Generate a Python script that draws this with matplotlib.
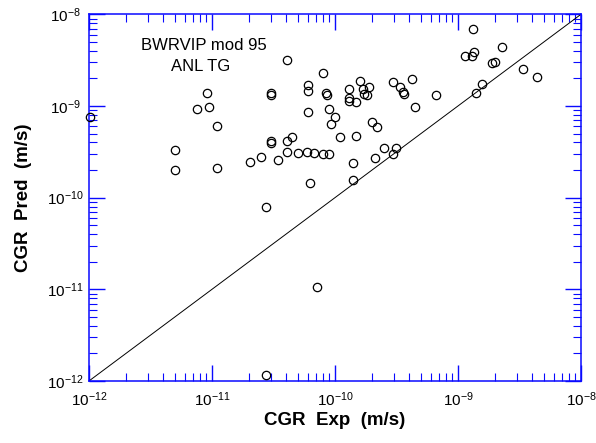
import matplotlib
matplotlib.use("Agg")
import matplotlib.pyplot as plt

plt.rcParams['font.family'] = ['Liberation Sans', 'DejaVu Sans']
plt.rcParams['mathtext.fontset'] = 'custom'
plt.rcParams['mathtext.rm'] = 'Liberation Sans'

cgr_exp = [
    4.05e-11, 7.94e-11, 6.0e-11, 6.0e-11, 9.16e-12, 3.0e-11, 3.0e-11, 8.4e-11,
    8.55e-11, 7.5e-12, 9.4e-12, 1.02e-12, 6.07e-11, 8.94e-11, 1.0e-10, 1.10e-11,
    9.28e-11, 3.0e-11, 3.0e-11, 4.1e-11, 4.45e-11, 1.10e-10, 5.03e-12, 5.03e-12,
    1.10e-11, 2.03e-11, 2.5e-11, 3.42e-11, 4.05e-11, 5.03e-11, 5.96e-11, 6.75e-11,
    7.94e-11, 8.94e-11, 6.26e-11, 2.73e-11, 1.33e-9, 2.27e-9, 1.14e-9, 1.34e-9,
    1.31e-9, 1.88e-9, 2.0e-9, 3.38e-9, 4.36e-9, 4.23e-10, 2.98e-10, 1.59e-10,
    1.31e-10, 1.69e-10, 1.89e-10, 1.72e-10, 1.82e-10, 3.38e-10, 3.57e-10, 3.65e-10,
    6.59e-10, 1.57e-9, 1.40e-9, 1.31e-10, 1.31e-10, 1.48e-10, 4.47e-10, 1.99e-10,
    2.19e-10, 1.49e-10, 2.5e-10, 3.11e-10, 2.98e-10, 2.1e-10, 1.39e-10, 1.39e-10,
    7.18e-11, 2.73e-11,
]
cgr_pred = [
    3.18e-9, 2.28e-9, 1.71e-9, 1.47e-9, 1.38e-9, 1.38e-9, 1.33e-9, 1.40e-9,
    1.31e-9, 9.3e-10, 9.8e-10, 7.5e-10, 8.55e-10, 9.2e-10, 7.66e-10, 6.06e-10,
    6.37e-10, 4.1e-10, 3.95e-10, 4.16e-10, 4.63e-10, 4.63e-10, 3.34e-10, 2.02e-10,
    2.13e-10, 2.46e-10, 2.81e-10, 2.58e-10, 3.13e-10, 3.05e-10, 3.18e-10, 3.05e-10,
    3.0e-10, 3.0e-10, 1.43e-10, 8.0e-11, 6.87e-9, 4.43e-9, 3.55e-9, 3.9e-9,
    3.55e-9, 2.92e-9, 3.04e-9, 2.53e-9, 2.09e-9, 1.97e-9, 1.84e-9, 1.89e-9,
    1.55e-9, 1.55e-9, 1.63e-9, 1.35e-9, 1.32e-9, 1.63e-9, 1.41e-9, 1.35e-9,
    1.33e-9, 1.74e-9, 1.39e-9, 1.23e-9, 1.13e-9, 1.10e-9, 9.77e-10, 6.75e-10,
    5.87e-10, 4.68e-10, 3.47e-10, 3.47e-10, 2.98e-10, 2.72e-10, 2.39e-10, 1.57e-10,
    1.07e-11, 1.16e-12,
]
axis_range = [1e-12, 1e-8]

frame_blue = '#0a0aff'

fig = plt.figure(figsize=(5.96, 4.43), dpi=100)
ax = fig.add_axes([0.1493, 0.140, 0.8255, 0.8277])

ax.plot(axis_range, axis_range, color='black', lw=0.7)
ax.plot(cgr_exp, cgr_pred, 'o', mfc='none', mec='black', ms=6, mew=0.9,
        clip_on=False, zorder=5)

ax.set_xscale('log')
ax.set_yscale('log')
ax.set_xlim(axis_range)
ax.set_ylim(axis_range)

for sp in ax.spines.values():
    sp.set_color(frame_blue)
    sp.set_linewidth(1.1)
ax.tick_params(which='both', direction='in', top=True, right=True,
               color=frame_blue, labelcolor='black', labelsize=11)
ax.tick_params(which='major', length=11.5, width=1.0)
ax.tick_params(which='minor', length=5.8, width=0.8)
ax.tick_params(axis='x', which='major', pad=7)
# y tick labels sit centred a fixed distance left of the frame
ax.tick_params(axis='y', which='major', pad=17)
plt.setp(ax.get_yticklabels(), ha='center')

ax.set_xlabel('CGR  Exp  (m/s)', fontsize=13.5, fontweight='bold', labelpad=2)
ax.set_ylabel('CGR  Pred  (m/s)', fontsize=13.5, fontweight='bold', labelpad=11)

ax.text(0.233, 0.902, 'BWRVIP mod 95', transform=ax.transAxes,
        ha='center', va='baseline', fontsize=12)
ax.text(0.226, 0.8455, 'ANL TG', transform=ax.transAxes,
        ha='center', va='baseline', fontsize=12)

fig.savefig('out.png', dpi=100)
